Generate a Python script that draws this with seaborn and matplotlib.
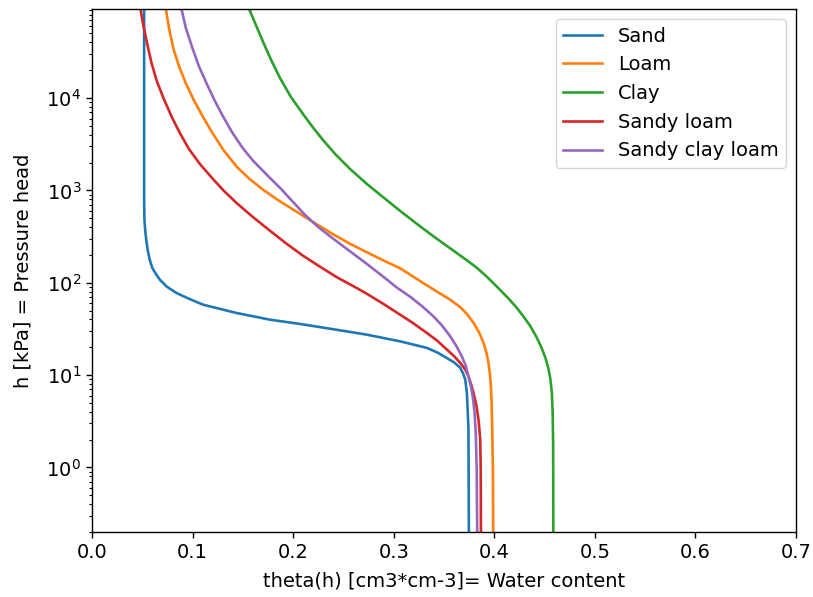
import numpy as np
import pandas as pd
import seaborn as sns
import matplotlib
matplotlib.use("Agg")
import matplotlib.pyplot as plt

"""Water retention curves read off the picture (h in kPa, theta in cm3/cm3)"""

soils = ['Sand', 'Loam', 'Clay', 'Sandy loam', 'Sandy clay loam']
colors = ['#1f77b4', '#ff7f0e', '#2ca02c', '#d62728', '#9467bd']

sand_h = [91600, 789, 480, 356, 277, 222, 177, 145, 125, 108, 90.5, 77.4, 67.1,
          57.8, 47.0, 39.8, 35.8, 31.4, 27.4, 23.2, 19.7, 17.5, 15.3, 13.7, 12.0,
          10.4, 8.94, 6.47, 4.24, 2.58, 0.2]
sand_theta = [0.0518, 0.0518, 0.0521, 0.0530, 0.0542, 0.0555, 0.0574, 0.0599,
              0.0634, 0.0674, 0.0744, 0.0840, 0.0963, 0.1105, 0.1438, 0.1769,
              0.2068, 0.2396, 0.2732, 0.3063, 0.3329, 0.3437, 0.3528, 0.3601,
              0.3661, 0.3690, 0.3711, 0.3727, 0.3735, 0.3743, 0.3747]

loam_h = [91600, 54300, 33000, 21600, 14420, 9510, 6280, 4185, 2740, 1808, 1349,
          1012, 760, 557, 434, 334, 264, 214, 175, 143.5, 116, 96.3, 79.9, 65.5,
          54.4, 45.6, 36.9, 28.8, 22.3, 17.5, 13.55, 10.1, 7.57, 4.80, 2.58,
          0.95, 0.2]
loam_theta = [0.0734, 0.0769, 0.0813, 0.0868, 0.0933, 0.1012, 0.1102, 0.1197,
              0.1306, 0.1438, 0.1560, 0.1702, 0.1869, 0.2068, 0.2227, 0.2399,
              0.2565, 0.2732, 0.2894, 0.3063, 0.3196, 0.3312, 0.3432, 0.3561,
              0.3661, 0.3730, 0.3793, 0.3850, 0.3893, 0.3922, 0.3942, 0.3957,
              0.3966, 0.3974, 0.3979, 0.3986, 0.3989]

clay_h = [91600, 61500, 40300, 26100, 16450, 10250, 6630, 4800, 3473, 2420, 1708,
          1175, 840, 600, 434, 318, 236, 175, 145, 116, 90.5, 68.0, 54.4, 43.4,
          33.9, 26.1, 20.1, 15.5, 11.9, 9.17, 6.47, 4.03, 1.77, 0.2]
clay_theta = [0.1563, 0.1630, 0.1702, 0.1779, 0.1869, 0.1978, 0.2101, 0.2197,
              0.2300, 0.2426, 0.2565, 0.2732, 0.2897, 0.3063, 0.3230, 0.3395,
              0.3561, 0.3727, 0.3827, 0.3926, 0.4026, 0.4138, 0.4218, 0.4288,
              0.4358, 0.4417, 0.4467, 0.4507, 0.4537, 0.4557, 0.4572, 0.4580,
              0.4585, 0.4587]

sandy_loam_h = [91600, 61500, 40300, 24500, 15270, 9750, 6230, 4185, 2810, 1933,
                1365, 988, 723, 511, 365, 264, 196, 149, 115, 87.6, 76.0, 59.3,
                45.1, 36.5, 28.6, 23.6, 18.9, 16.0, 13.55, 11.5, 9.71, 7.89,
                6.42, 4.80, 3.30, 2.01, 0.95, 0.2]
sandy_loam_theta = [0.0482, 0.0510, 0.0545, 0.0589, 0.0644, 0.0714, 0.0793,
                    0.0873, 0.0963, 0.1072, 0.1192, 0.1311, 0.1441, 0.1603,
                    0.1770, 0.1935, 0.2098, 0.2267, 0.2433, 0.2632, 0.2732,
                    0.2894, 0.3063, 0.3193, 0.3329, 0.3432, 0.3528, 0.3601,
                    0.3661, 0.3711, 0.3743, 0.3770, 0.3793, 0.3820, 0.3843,
                    0.3860, 0.3865, 0.3867]

sandy_clay_loam_h = [91600, 57100, 33000, 22200, 14420, 9510, 6280, 4290, 2953,
                     2083, 1472, 1038, 751, 543, 403, 299, 219, 160, 116, 88.3,
                     70.6, 55.7, 43.2, 34.3, 26.3, 20.8, 15.97, 12.7, 9.71, 7.33,
                     5.43, 3.74, 2.45, 0.95, 0.2]
sandy_clay_loam_theta = [0.0890, 0.0933, 0.1005, 0.1062, 0.1139, 0.1217, 0.1304,
                         0.1391, 0.1490, 0.1603, 0.1739, 0.1879, 0.1998, 0.2117,
                         0.2247, 0.2399, 0.2565, 0.2732, 0.2897, 0.3033, 0.3163,
                         0.3282, 0.3395, 0.3481, 0.3561, 0.3621, 0.3677, 0.3715,
                         0.3743, 0.3770, 0.3790, 0.3805, 0.3815, 0.3825, 0.3830]

curves = {
    'Sand': (sand_theta, sand_h),
    'Loam': (loam_theta, loam_h),
    'Clay': (clay_theta, clay_h),
    'Sandy loam': (sandy_loam_theta, sandy_loam_h),
    'Sandy clay loam': (sandy_clay_loam_theta, sandy_clay_loam_h),
}

plt.rcParams['font.size'] = 14
plt.rcParams['axes.linewidth'] = 1.0
plt.rcParams['xtick.major.size'] = 4.4
plt.rcParams['ytick.major.size'] = 4.4
plt.rcParams['ytick.minor.size'] = 2.5
plt.rcParams['xtick.major.width'] = 1.0
plt.rcParams['ytick.major.width'] = 1.0
plt.rcParams['ytick.minor.width'] = 0.8

fig = plt.figure(figsize=(8.13, 5.97), dpi=100)
ax = fig.add_axes([0.1132, 0.1089, 0.8659, 0.876])

for name, col in zip(soils, colors):
    th, h = curves[name]
    df = pd.DataFrame({'theta': th, 'h': h})
    sns.lineplot(data=df, x='theta', y='h', sort=False, estimator=None,
                 color=col, linewidth=1.9, label=name, ax=ax)

ax.set_yscale('log')
ax.set_xlim(0, 0.7)
ax.set_ylim(0.2, 9.2e4)
ax.set_xlabel('theta(h) [cm3*cm-3]= Water content', labelpad=7)
ax.set_ylabel('h [kPa] = Pressure head', labelpad=10)
ax.legend(loc='upper right')

plt.savefig('out.png', dpi=100)
